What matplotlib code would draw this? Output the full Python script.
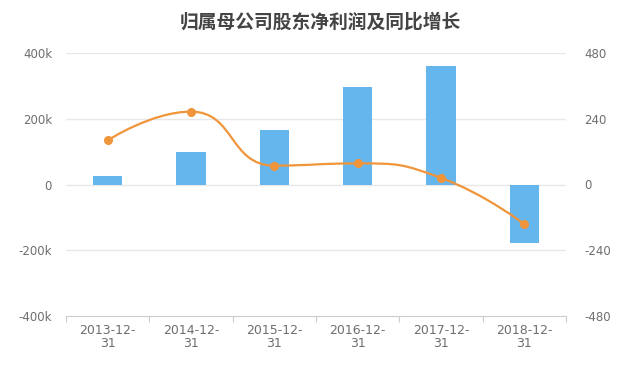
import matplotlib
matplotlib.use("Agg")
import matplotlib.pyplot as plt
from matplotlib.path import Path
from matplotlib.patches import PathPatch
import numpy as np

plt.rcParams['font.family'] = ['Noto Sans CJK SC', 'DejaVu Sans']

categories = ["2013-12-\n31", "2014-12-\n31", "2015-12-\n31", "2016-12-\n31", "2017-12-\n31", "2018-12-\n31"]
net_profit = [25000, 100000, 167000, 298000, 361000, -179000]
yoy_growth = [161, 266, 69, 77, 24, -145]
left_ticks = [-400000, -200000, 0, 200000, 400000]
left_labels = ["-400k", "-200k", "0", "200k", "400k"]
right_ticks = [-480, -240, 0, 240, 480]
right_labels = ["-480", "-240", "0", "240", "480"]

bar_color = "#66b6ee"
line_color = "#f0953a"
grid_color = "#e8e8e8"
text_color = "#6e6e6e"
tick_font = "DejaVu Sans"

fig = plt.figure(figsize=(6.4, 3.71), dpi=100)
ax = fig.add_axes([66/640, 1-316/371, 500/640, 263/371])
ax2 = ax.twinx()

x = np.arange(len(categories))
ax.bar(x, net_profit, width=0.35, color=bar_color, zorder=2)
ax.set_xlim(-0.5, len(categories)-0.5)
ax.set_ylim(-400000, 400000)
ax.set_yticks(left_ticks)
ax.set_yticklabels(left_labels)
for t in left_ticks[1:]:
    ax.axhline(t, color=grid_color, lw=1, zorder=0)
for s in ["top", "right", "left"]:
    ax.spines[s].set_visible(False)
ax.spines["bottom"].set_color("#cccccc")
ax.tick_params(axis="y", length=0, colors=text_color, labelsize=8.5, pad=10)
ax.set_xticks(np.arange(len(categories)+1)-0.5, minor=False)
ax.set_xticklabels([""]*(len(categories)+1))
ax.tick_params(axis="x", which="major", length=4, color="#cccccc")
ax.set_xticks(x, minor=True)
ax.set_xticklabels(categories, minor=True)
ax.tick_params(axis="x", which="minor", length=0, colors=text_color, labelsize=9, pad=6)
for lab in ax.get_xticklabels(minor=True):
    lab.set_horizontalalignment("center")
    lab.set_linespacing(1.0)
    lab.set_fontfamily(tick_font)
for lab in ax.get_yticklabels():
    lab.set_fontfamily(tick_font)

ax2.set_ylim(-480, 480)
ax2.set_yticks(right_ticks)
ax2.set_yticklabels(right_labels)
for s in ["top", "right", "left", "bottom"]:
    ax2.spines[s].set_visible(False)
ax2.tick_params(axis="y", length=0, colors=text_color, labelsize=8.5, pad=13)
for lab in ax2.get_yticklabels():
    lab.set_fontfamily(tick_font)

# smooth line via cubic Bezier (echarts-like smoothing with clamped control points)
sx, sy = 83.3, 132/480
P = np.column_stack([x*sx, np.array(yoy_growth, float)*sy])
smooth = 0.5
n = len(P)

def clamp(v, a, b):
    return min(max(v, min(a, b)), max(a, b))

cps = []
for i in range(n):
    if i == 0 or i == n-1:
        cps.append((P[i].copy(), P[i].copy()))
        continue
    prev, cur, nxt = P[i-1], P[i], P[i+1]
    v = (nxt - prev)
    l0 = np.linalg.norm(cur - prev); l1 = np.linalg.norm(nxt - cur)
    r = l1 / (l0 + l1)
    nc = cur + v*smooth*r
    nc = np.array([clamp(nc[0], nxt[0], cur[0]), clamp(nc[1], nxt[1], cur[1])])
    vv = nc - cur
    pc = cur - vv*l0/l1
    pc = np.array([clamp(pc[0], prev[0], cur[0]), clamp(pc[1], prev[1], cur[1])])
    vv = cur - pc
    nc = cur + vv*l1/l0
    cps.append((pc, nc))

verts = [tuple(P[0])]
codes = [Path.MOVETO]
for i in range(n-1):
    a = cps[i][1]; b = cps[i+1][0]; e = P[i+1]
    verts += [tuple(a), tuple(b), tuple(e)]
    codes += [Path.CURVE4]*3
verts = [(vx/sx, vy/sy) for vx, vy in verts]
ax2.add_patch(PathPatch(Path(verts, codes), fill=False, edgecolor=line_color, lw=1.6, zorder=3))
ax2.plot(x, yoy_growth, 'o', color=line_color, ms=5.5, zorder=4)

fig.text(0.5, 1-22/371, "归属母公司股东净利润及同比增长", ha="center", va="center",
         fontsize=13.5, fontweight="bold", color="#444444")

fig.savefig("out.png", dpi=100)
